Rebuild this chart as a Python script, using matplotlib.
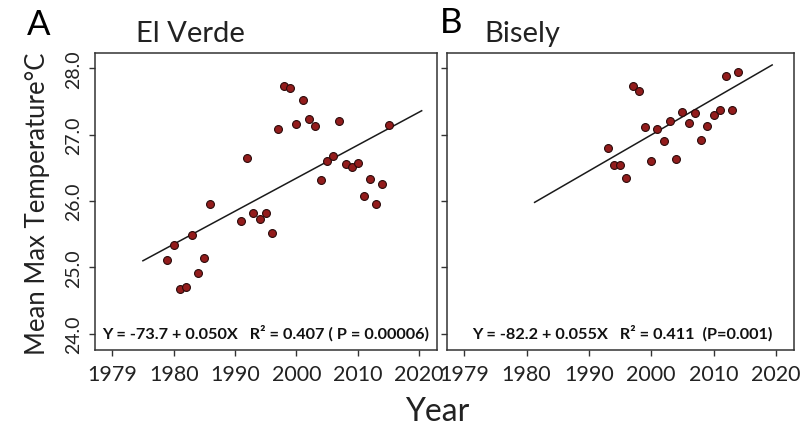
import matplotlib
matplotlib.use('Agg')
import matplotlib.pyplot as plt

plt.rcParams['font.family'] = ['Lato', 'DejaVu Sans']

# El Verde data (years and mean max temperature)
verde_years = [1979, 1980, 1981, 1982, 1983, 1984, 1985, 1986,
               1991, 1992, 1993, 1994, 1995, 1996, 1997, 1998, 1999, 2000,
               2001, 2002, 2003, 2004, 2005, 2006, 2007, 2008, 2009, 2010,
               2011, 2012, 2013, 2014, 2015]
verde_temp = [25.11, 25.33, 24.67, 24.70, 25.49, 24.92, 25.14, 25.96,
              25.70, 26.65, 25.82, 25.73, 25.82, 25.52, 27.08, 27.73, 27.70, 27.16,
              27.52, 27.23, 27.13, 26.31, 26.61, 26.68, 27.21, 26.56, 26.51, 26.57,
              26.07, 26.33, 25.95, 26.25, 27.14]
verde_line_x = [1975.0, 2020.4]
verde_line_y = [25.10, 27.36]

# Bisely data
bisely_years = [1993, 1994, 1995, 1996, 1997, 1998, 1999, 2000, 2001, 2002,
                2003, 2004, 2005, 2006, 2007, 2008, 2009, 2010, 2011, 2012,
                2013, 2014]
bisely_temp = [26.80, 26.55, 26.55, 26.34, 27.74, 27.66, 27.12, 26.61, 27.09, 26.91,
               27.20, 26.63, 27.34, 27.18, 27.33, 26.92, 27.13, 27.29, 27.37, 27.89,
               27.37, 27.94]
bisely_line_x = [1981.3, 2019.4]
bisely_line_y = [25.98, 28.05]

xticks = [1970, 1980, 1990, 2000, 2010, 2020]
xtick_labels = ['1979', '1980', '1990', '2000', '2010', '2020']
yticks = [24.0, 25.0, 26.0, 27.0, 28.0]

verde_eq = 'Y = -73.7 + 0.050X   R² = 0.407 ( P = 0.00006)'
bisely_eq = 'Y = -82.2 + 0.055X   R² = 0.411  (P=0.001)'

fig = plt.figure(figsize=(8.02, 4.31), dpi=100)
axA = fig.add_axes([0.1185, 0.1863, 0.4264, 0.6884])
axB = fig.add_axes([0.557, 0.1863, 0.433, 0.6884])


def drawPanel(ax, years, temp, lx, ly, eq, eqx, showy):
    ax.plot(lx, ly, color='#1a1a1a', linewidth=1.1, zorder=2)
    ax.scatter(years, temp, s=32, color='#931c1c', edgecolor='#2a0a0a',
               linewidth=0.8, zorder=3)
    ax.set_xlim(1967.2, 2022.9)
    ax.set_ylim(23.76, 28.23)
    ax.set_xticks(xticks)
    ax.set_xticklabels(xtick_labels, fontsize=15.5, color='#222222')
    ax.set_yticks(yticks)
    if showy:
        ax.set_yticklabels(['%.1f' % v for v in yticks], rotation=90,
                           va='center', fontsize=14, color='#222222')
    else:
        ax.set_yticklabels([])
    ax.tick_params(direction='out', length=4, width=1, color='#333333', pad=6)
    ax.tick_params(axis='y', pad=5)
    for s in ax.spines.values():
        s.set_color('#333333')
        s.set_linewidth(1.1)
    ax.text(eqx, 0.06, eq, transform=ax.transAxes, ha='center', va='center',
            fontsize=11.7, fontweight='bold', color='#111111')


drawPanel(axA, verde_years, verde_temp, verde_line_x, verde_line_y, verde_eq, 0.498, True)
drawPanel(axB, bisely_years, bisely_temp, bisely_line_x, bisely_line_y, bisely_eq, 0.505, False)

fig.text(0.034, 0.9188, 'A', fontsize=25, ha='left', va='baseline')
fig.text(0.17, 0.9026, 'El Verde', fontsize=21, ha='left', va='baseline', color='#222222')
fig.text(0.549, 0.9234, 'B', fontsize=25, ha='left', va='baseline')
fig.text(0.604, 0.9026, 'Bisely', fontsize=21, ha='left', va='baseline', color='#222222')
fig.text(0.047, 0.528, 'Mean Max Temperature°C', rotation=90, fontsize=18.5,
         ha='center', va='center', color='#222222')
fig.text(0.545, 0.044, 'Year', fontsize=23, ha='center', va='center', color='#222222')

fig.savefig('out.png', dpi=100, facecolor='white')
